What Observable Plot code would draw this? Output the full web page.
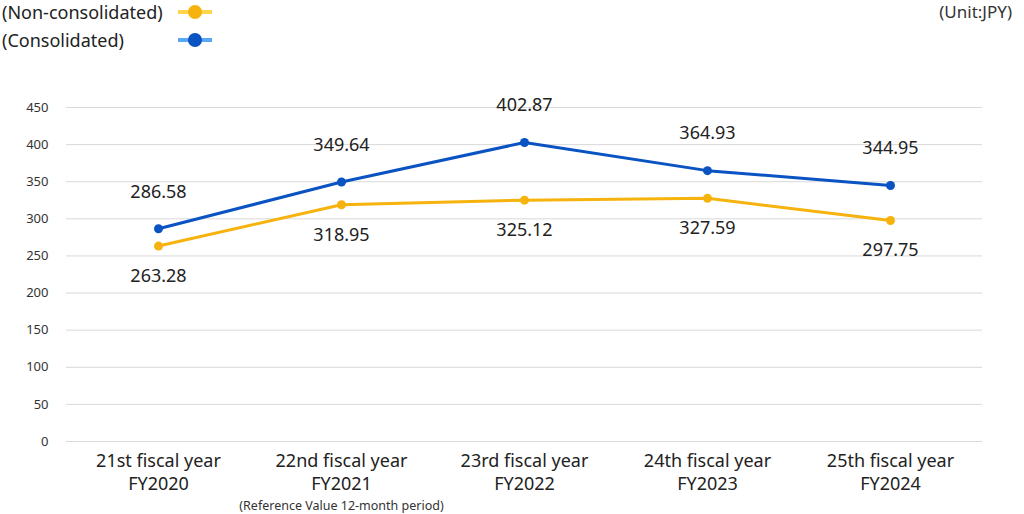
<!DOCTYPE html>
<html><head><meta charset="utf-8">
<script src="https://cdn.jsdelivr.net/npm/d3@7"></script>
<script src="https://cdn.jsdelivr.net/npm/@observablehq/plot@0.6"></script>
<style>
body{margin:0;background:#fff;font-family:"Noto Sans",sans-serif;}
#wrap{position:relative;width:1024px;height:514px;}
.lg{position:absolute;font-size:18px;color:#222;line-height:24px;}
.ln{position:absolute;width:34px;height:4px;}
.dt{position:absolute;width:14px;height:14px;border-radius:50%;}
#unit{position:absolute;right:12px;top:0px;font-size:17px;color:#333;line-height:24px;}
</style></head><body>
<div id="wrap">
<div class="lg" style="left:2px;top:0px;">(Non-consolidated)</div>
<div class="ln" style="left:178px;top:10px;background:#ffd54a"></div>
<div class="dt" style="left:188px;top:5px;background:#f6b20d"></div>
<div class="lg" style="left:2px;top:28px;">(Consolidated)</div>
<div class="ln" style="left:178px;top:38px;background:#5aa8f5"></div>
<div class="dt" style="left:188px;top:33px;background:#0a53c2"></div>
<div id="unit">(Unit:JPY)</div>
<div id="chart"></div>
</div>
<script>
const categories = ["21st fiscal year\nFY2020","22nd fiscal year\nFY2021","23rd fiscal year\nFY2022","24th fiscal year\nFY2023","25th fiscal year\nFY2024"];
const nonConsolidated = [263.28, 318.95, 325.12, 327.59, 297.75];
const consolidated = [286.58, 349.64, 402.87, 364.93, 344.95];
const yTicks = [0,50,100,150,200,250,300,350,400,450];
const note = "(Reference Value 12-month period)";

const nc = categories.map((c,i)=>({cat:c, v:nonConsolidated[i]}));
const co = categories.map((c,i)=>({cat:c, v:consolidated[i]}));
const orange = "#f6b20d", blue = "#0a53c2";

const chart = Plot.plot({
  width:1024, height:514,
  marginLeft:66, marginRight:42, marginTop:107, marginBottom:73,
  style:{fontFamily:"Noto Sans, sans-serif", background:"transparent"},
  x:{type:"point", domain:categories, padding:0.5, label:null},
  y:{domain:[0,450], label:null},
  marks:[
    Plot.gridY(yTicks,{stroke:"#d9d9d9", strokeOpacity:1, strokeWidth:1}),
    Plot.axisY(yTicks,{tickSize:0, tickPadding:18, fontSize:13, fill:"#333", label:null}),
    Plot.axisX({tickSize:0, tickPadding:9, fontSize:18, fill:"#222", lineHeight:1.28, label:null}),
    Plot.text([note],{x:[categories[1]], frameAnchor:"bottom", dy:68, fontSize:12.5, fill:"#333", text:d=>d}),
    Plot.line(nc,{x:"cat", y:"v", stroke:orange, strokeWidth:3}),
    Plot.line(co,{x:"cat", y:"v", stroke:blue, strokeWidth:3}),
    Plot.dot(nc,{x:"cat", y:"v", fill:orange, r:4.5}),
    Plot.dot(co,{x:"cat", y:"v", fill:blue, r:4.5}),
    Plot.text(nc,{x:"cat", y:"v", text:d=>d.v.toFixed(2), dy:30, fontSize:18, fill:"#222"}),
    Plot.text(co,{x:"cat", y:"v", text:d=>d.v.toFixed(2), dy:-37, fontSize:18, fill:"#222"})
  ]
});
const c = document.getElementById("chart");
c.style.position="absolute"; c.style.left="0"; c.style.top="0";
c.append(chart);
</script>
</body></html>
